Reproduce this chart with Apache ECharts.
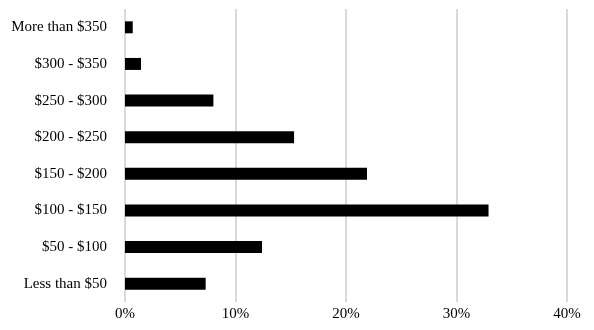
<!DOCTYPE html>
<html>
<head>
<meta charset="utf-8">
<script src="https://cdn.jsdelivr.net/npm/echarts@6/dist/echarts.min.js"></script>
<style>html,body{margin:0;padding:0;background:#fff}#c{width:594px;height:330px}</style>
</head>
<body>
<div id="c"></div>
<script>
var categories = ["Less than $50", "$50 - $100", "$100 - $150", "$150 - $200", "$200 - $250", "$250 - $300", "$300 - $350", "More than $350"];
var values = [7.3, 12.4, 32.9, 21.9, 15.3, 8.0, 1.45, 0.7];
var xTicks = [0, 10, 20, 30, 40];

var chart = echarts.init(document.getElementById('c'), null, {renderer: 'canvas'});
chart.setOption({
  animation: false,
  backgroundColor: '#fff',
  textStyle: {fontFamily: '"Liberation Serif", "Times New Roman", serif'},
  grid: {left: 125, right: 27, top: 9, bottom: 28, containLabel: false},
  xAxis: {
    type: 'value',
    min: xTicks[0],
    max: xTicks[xTicks.length - 1],
    interval: 10,
    axisLine: {show: false},
    axisTick: {show: false},
    splitLine: {show: true, lineStyle: {color: '#d9d9d9', width: 2}},
    axisLabel: {
      formatter: function (v) { return v + '%'; },
      color: '#000',
      fontSize: 15,
      margin: 5,
      fontFamily: '"Liberation Serif", "Times New Roman", serif'
    }
  },
  yAxis: {
    type: 'category',
    data: categories,
    axisLine: {show: false},
    axisTick: {show: false},
    axisLabel: {
      color: '#000',
      fontSize: 15,
      margin: 18,
      fontFamily: '"Liberation Serif", "Times New Roman", serif'
    }
  },
  series: [{
    type: 'bar',
    data: values,
    barWidth: 12,
    itemStyle: {color: '#000'}
  }]
});
</script>
</body>
</html>
